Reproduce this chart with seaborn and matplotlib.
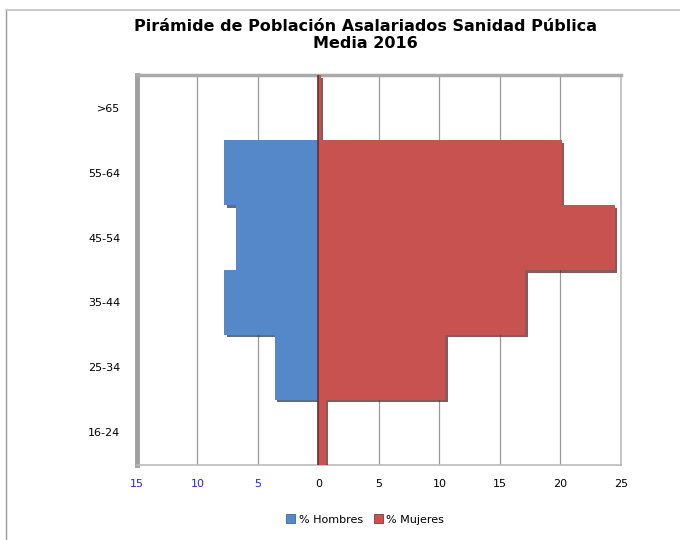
import numpy as np
import pandas as pd
import matplotlib
matplotlib.use("Agg")
import matplotlib.pyplot as plt
import matplotlib.patheffects as pe
from matplotlib.lines import Line2D
from matplotlib.patches import Patch
import seaborn as sns

sns.set_style("white")
plt.rcParams['font.family'] = ['DejaVu Sans']
plt.rcParams['text.color'] = 'black'
plt.rcParams['xtick.color'] = 'black'
plt.rcParams['ytick.color'] = 'black'

# Datos (% sobre el total, lectura aproximada del grafico)
edades = [">65", "55-64", "45-54", "35-44", "25-34", "16-24"]
hombres = [0.05, 7.8, 6.8, 7.8, 3.6, 0.05]
mujeres = [0.2, 20.1, 24.5, 17.1, 10.5, 0.6]
xticks = [-15, -10, -5, 0, 5, 10, 15, 20, 25]

df = pd.DataFrame({"edad": edades, "hombres": hombres, "mujeres": mujeres})
df["hombres_neg"] = -df["hombres"]

azul = "#5588C8"
rojo = "#C8524F"

fig = plt.figure(figsize=(6.8, 5.4), dpi=100)
ax = fig.add_axes([0.2015, 0.139, 0.7115, 0.722])

# sombra oscura del mismo color (efecto biselado de Excel)
sombra = [pe.SimplePatchShadow(offset=(1.8, -1.8), rho=0.45, alpha=0.75),
          pe.Normal()]

sns.barplot(data=df, x="hombres_neg", y="edad", order=edades, color=azul,
            width=1.0, orient="h", ax=ax, saturation=1, linewidth=0)
sns.barplot(data=df, x="mujeres", y="edad", order=edades, color=rojo,
            width=1.0, orient="h", ax=ax, saturation=1, linewidth=0)
for p in ax.patches:
    p.set_path_effects(sombra)
    p.set_zorder(3)

ax.set_xlim(-15, 25)
ax.set_ylim(5.5, -0.5)
ax.set_xticks(xticks)
ax.set_xticklabels([str(abs(t)) for t in xticks], fontsize=8)
for lbl, t in zip(ax.get_xticklabels(), xticks):
    lbl.set_color("#2222ee" if t < 0 else "black")
ax.tick_params(axis="x", length=0, pad=10)
ax.tick_params(axis="y", length=0, pad=12, labelsize=8)
ax.set_xlabel("")
ax.set_ylabel("")

ax.grid(axis="x", color="#999999", lw=0.9, zorder=0)
ax.set_axisbelow(True)
ax.axvline(0, color="#6e2b2b", lw=1.2, zorder=4)

for s in ["right", "bottom"]:
    ax.spines[s].set_color("#bbbbbb")
    ax.spines[s].set_linewidth(1.2)
ax.spines["top"].set_color("#aaaaaa")
ax.spines["top"].set_linewidth(2.5)
ax.spines["left"].set_color("#a0a0a0")
ax.spines["left"].set_linewidth(3.5)

fig.suptitle("Pirámide de Población Asalariados Sanidad Pública\nMedia 2016",
             x=0.537, y=0.965, fontsize=11.5, fontweight="bold", linespacing=1.2)

handles = [Patch(facecolor=azul, edgecolor="#3d6aa3", lw=0.6),
           Patch(facecolor=rojo, edgecolor="#8a3230", lw=0.6)]
fig.legend(handles, ["% Hombres", "% Mujeres"], loc="lower center",
           bbox_to_anchor=(0.537, 0.01), ncol=2, frameon=False, fontsize=8,
           handlelength=0.8, handleheight=0.8, handletextpad=0.3,
           columnspacing=1.0)

# marco exterior
fig.add_artist(Line2D([6 / 680, 6 / 680], [0, 1 - 10 / 540], color="#999999", lw=1))
fig.add_artist(Line2D([6 / 680, 1], [1 - 10 / 540, 1 - 10 / 540], color="#c0c0c0", lw=1.2))

fig.savefig("out.png", dpi=100)
